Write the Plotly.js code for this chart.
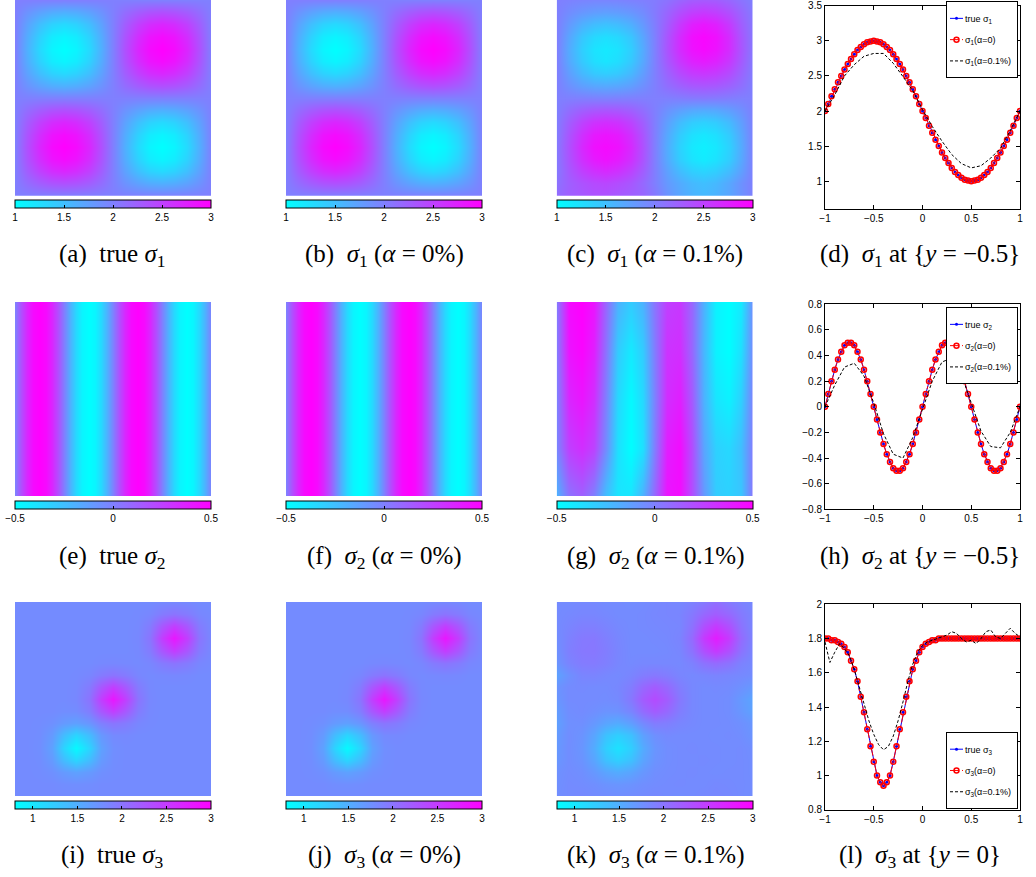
<!DOCTYPE html>
<html><head><meta charset="utf-8">
<script src="https://cdn.plot.ly/plotly-3.0.1.min.js"></script>
<style>html,body{margin:0;padding:0;background:#fff}#chart{width:1036px;height:877px}</style>
</head><body><div id="chart"></div>
<script>
// ---------------- data ----------------
const grid17 = [-1,-0.875,-0.75,-0.625,-0.5,-0.375,-0.25,-0.125,0,0.125,0.25,0.375,0.5,0.625,0.75,0.875,1];
const grid33 = [-1,-0.9375,-0.875,-0.8125,-0.75,-0.6875,-0.625,-0.5625,-0.5,-0.4375,-0.375,-0.3125,-0.25,-0.1875,-0.125,-0.0625,0,0.0625,0.125,0.1875,0.25,0.3125,0.375,0.4375,0.5,0.5625,0.625,0.6875,0.75,0.8125,0.875,0.9375,1];
const grid5 = [-1,-0.5,0,0.5,1];
const yEnds = [-1,1];

const sigma1TrueGrid = [
 [2,2,2,2,2,2,2,2,2,2,2,2,2,2,2,2,2],
 [2,2.15,2.27,2.35,2.38,2.35,2.27,2.15,2,1.85,1.73,1.65,1.62,1.65,1.73,1.85,2],
 [2,2.27,2.5,2.65,2.71,2.65,2.5,2.27,2,1.73,1.5,1.35,1.29,1.35,1.5,1.73,2],
 [2,2.35,2.65,2.85,2.92,2.85,2.65,2.35,2,1.65,1.35,1.15,1.08,1.15,1.35,1.65,2],
 [2,2.38,2.71,2.92,3,2.92,2.71,2.38,2,1.62,1.29,1.08,1,1.08,1.29,1.62,2],
 [2,2.35,2.65,2.85,2.92,2.85,2.65,2.35,2,1.65,1.35,1.15,1.08,1.15,1.35,1.65,2],
 [2,2.27,2.5,2.65,2.71,2.65,2.5,2.27,2,1.73,1.5,1.35,1.29,1.35,1.5,1.73,2],
 [2,2.15,2.27,2.35,2.38,2.35,2.27,2.15,2,1.85,1.73,1.65,1.62,1.65,1.73,1.85,2],
 [2,2,2,2,2,2,2,2,2,2,2,2,2,2,2,2,2],
 [2,1.85,1.73,1.65,1.62,1.65,1.73,1.85,2,2.15,2.27,2.35,2.38,2.35,2.27,2.15,2],
 [2,1.73,1.5,1.35,1.29,1.35,1.5,1.73,2,2.27,2.5,2.65,2.71,2.65,2.5,2.27,2],
 [2,1.65,1.35,1.15,1.08,1.15,1.35,1.65,2,2.35,2.65,2.85,2.92,2.85,2.65,2.35,2],
 [2,1.62,1.29,1.08,1,1.08,1.29,1.62,2,2.38,2.71,2.92,3,2.92,2.71,2.38,2],
 [2,1.65,1.35,1.15,1.08,1.15,1.35,1.65,2,2.35,2.65,2.85,2.92,2.85,2.65,2.35,2],
 [2,1.73,1.5,1.35,1.29,1.35,1.5,1.73,2,2.27,2.5,2.65,2.71,2.65,2.5,2.27,2],
 [2,1.85,1.73,1.65,1.62,1.65,1.73,1.85,2,2.15,2.27,2.35,2.38,2.35,2.27,2.15,2],
 [2,2,2,2,2,2,2,2,2,2,2,2,2,2,2,2,2]
];
const sigma1Alpha0Grid = sigma1TrueGrid;
const sigma1NoisyGrid = [
 [2.15,2.25,2.3,2.35,2.35,2.3,2.25,2.2,2.05,1.85,1.7,1.6,1.55,1.6,1.7,1.85,2.0],
 [2.1,2.25,2.35,2.42,2.45,2.4,2.32,2.18,2.0,1.8,1.66,1.55,1.5,1.55,1.68,1.85,2.0],
 [2.05,2.3,2.5,2.62,2.68,2.62,2.48,2.27,2.0,1.74,1.52,1.38,1.33,1.38,1.52,1.74,2.0],
 [2.05,2.35,2.63,2.8,2.87,2.8,2.63,2.35,2.0,1.67,1.38,1.22,1.15,1.22,1.38,1.67,2.0],
 [2.05,2.37,2.68,2.87,2.92,2.87,2.68,2.37,2.0,1.65,1.35,1.18,1.12,1.18,1.35,1.65,2.0],
 [2.03,2.34,2.62,2.8,2.85,2.8,2.62,2.34,2.0,1.68,1.4,1.24,1.18,1.24,1.4,1.68,2.0],
 [2.02,2.26,2.47,2.6,2.64,2.6,2.47,2.26,2.0,1.75,1.53,1.4,1.36,1.4,1.53,1.75,2.0],
 [2.0,2.14,2.25,2.31,2.33,2.31,2.25,2.14,2.0,1.86,1.75,1.68,1.66,1.68,1.75,1.86,2.0],
 [2.0,2.0,2.0,1.99,1.98,1.99,2.0,2.0,2.0,2.0,2.02,2.04,2.05,2.04,2.02,2.0,2.0],
 [2.0,1.87,1.76,1.7,1.68,1.7,1.76,1.87,2.0,2.13,2.23,2.3,2.32,2.3,2.23,2.13,2.0],
 [2.0,1.76,1.55,1.42,1.38,1.42,1.55,1.76,2.0,2.22,2.42,2.54,2.58,2.54,2.42,2.22,2.02],
 [2.0,1.68,1.42,1.26,1.2,1.26,1.42,1.68,2.0,2.3,2.57,2.74,2.8,2.74,2.57,2.3,2.03],
 [2.0,1.66,1.38,1.22,1.17,1.22,1.38,1.66,2.0,2.34,2.66,2.86,2.93,2.86,2.66,2.34,2.05],
 [2.0,1.7,1.44,1.3,1.25,1.3,1.44,1.7,2.0,2.33,2.66,2.88,2.95,2.88,2.66,2.33,2.05],
 [2.0,1.8,1.62,1.52,1.48,1.52,1.62,1.8,2.02,2.27,2.55,2.75,2.82,2.75,2.55,2.27,2.05],
 [2.0,1.9,1.82,1.77,1.75,1.77,1.82,1.9,2.04,2.2,2.38,2.5,2.55,2.5,2.38,2.2,2.03],
 [2.0,1.98,1.96,1.95,1.95,1.96,1.98,2.0,2.03,2.1,2.2,2.28,2.3,2.28,2.2,2.1,2.0]
];

const sigma2TrueProfile = [0,0.19,0.35,0.46,0.5,0.46,0.35,0.19,0,-0.19,-0.35,-0.46,-0.5,-0.46,-0.35,-0.19,0,0.19,0.35,0.46,0.5,0.46,0.35,0.19,0,-0.19,-0.35,-0.46,-0.5,-0.46,-0.35,-0.19,0];
const sigma2NoisyGrid = [
 [-0.2,0.05,0.12,0.0,-0.25,-0.4,-0.4,-0.2,0.1,0.42,0.45,0.2,-0.1,-0.3,-0.32,-0.28,0.05],
 [-0.02,0.25,0.32,0.24,-0.05,-0.38,-0.5,-0.38,0.02,0.38,0.45,0.2,-0.15,-0.32,-0.35,-0.25,0.02],
 [0.0,0.35,0.42,0.32,0.0,-0.35,-0.48,-0.35,0.0,0.32,0.38,0.15,-0.2,-0.4,-0.45,-0.32,0.0],
 [0.02,0.42,0.48,0.38,0.05,-0.3,-0.42,-0.3,0.02,0.3,0.32,0.1,-0.22,-0.45,-0.5,-0.38,-0.03],
 [0.02,0.45,0.5,0.42,0.1,-0.2,-0.3,-0.2,0.05,0.25,0.28,0.1,-0.2,-0.45,-0.5,-0.42,-0.05]
];

const sigma3TrueGrid = [
 [1.8,1.8,1.8,1.8,1.8,1.8,1.8,1.8,1.8,1.8,1.8,1.8,1.8,1.8,1.8,1.8,1.8],
 [1.8,1.8,1.8,1.8,1.78,1.77,1.78,1.8,1.8,1.8,1.8,1.8,1.8,1.8,1.8,1.8,1.8],
 [1.8,1.8,1.79,1.76,1.67,1.61,1.67,1.76,1.79,1.8,1.8,1.8,1.8,1.8,1.8,1.8,1.8],
 [1.8,1.8,1.78,1.67,1.37,1.16,1.37,1.67,1.78,1.8,1.8,1.8,1.8,1.8,1.8,1.8,1.8],
 [1.8,1.8,1.77,1.61,1.16,0.85,1.16,1.61,1.77,1.8,1.8,1.8,1.8,1.8,1.8,1.8,1.8],
 [1.8,1.8,1.78,1.67,1.37,1.16,1.37,1.69,1.81,1.82,1.8,1.8,1.8,1.8,1.8,1.8,1.8],
 [1.8,1.8,1.79,1.76,1.67,1.62,1.71,1.9,1.99,1.94,1.84,1.81,1.8,1.8,1.8,1.8,1.8],
 [1.8,1.8,1.8,1.8,1.78,1.79,1.92,2.25,2.47,2.25,1.94,1.82,1.8,1.8,1.8,1.8,1.8],
 [1.8,1.8,1.8,1.8,1.8,1.83,2.0,2.47,2.8,2.47,2.0,1.83,1.8,1.8,1.8,1.8,1.8],
 [1.8,1.8,1.8,1.8,1.8,1.82,1.94,2.25,2.47,2.25,1.94,1.82,1.8,1.8,1.8,1.8,1.8],
 [1.8,1.8,1.8,1.8,1.8,1.81,1.84,1.94,2.0,1.94,1.84,1.81,1.82,1.83,1.82,1.8,1.8],
 [1.8,1.8,1.8,1.8,1.8,1.8,1.8,1.82,1.83,1.82,1.81,1.84,1.94,2.0,1.94,1.84,1.81],
 [1.8,1.8,1.8,1.8,1.8,1.8,1.8,1.8,1.8,1.8,1.82,1.94,2.25,2.47,2.25,1.94,1.82],
 [1.8,1.8,1.8,1.8,1.8,1.8,1.8,1.8,1.8,1.8,1.83,2.0,2.47,2.8,2.47,2.0,1.83],
 [1.8,1.8,1.8,1.8,1.8,1.8,1.8,1.8,1.8,1.8,1.82,1.94,2.25,2.47,2.25,1.94,1.82],
 [1.8,1.8,1.8,1.8,1.8,1.8,1.8,1.8,1.8,1.8,1.81,1.84,1.94,2.0,1.94,1.84,1.81],
 [1.8,1.8,1.8,1.8,1.8,1.8,1.8,1.8,1.8,1.8,1.8,1.8,1.82,1.83,1.82,1.8,1.8]
];
const sigma3Alpha0Grid = sigma3TrueGrid;
const sigma3NoisyGrid = [
 [1.78,1.8,1.82,1.8,1.79,1.78,1.79,1.8,1.82,1.8,1.79,1.8,1.82,1.83,1.82,1.8,1.78],
 [1.76,1.8,1.79,1.77,1.73,1.71,1.73,1.77,1.79,1.8,1.81,1.8,1.8,1.82,1.81,1.8,1.79],
 [1.75,1.79,1.77,1.69,1.58,1.52,1.58,1.69,1.77,1.79,1.8,1.81,1.8,1.79,1.8,1.8,1.78],
 [1.7,1.78,1.73,1.58,1.33,1.21,1.33,1.58,1.73,1.78,1.8,1.8,1.81,1.8,1.79,1.8,1.78],
 [1.68,1.78,1.71,1.52,1.21,1.05,1.21,1.52,1.71,1.78,1.8,1.81,1.8,1.8,1.79,1.8,1.77],
 [1.66,1.78,1.73,1.58,1.33,1.21,1.33,1.61,1.76,1.81,1.8,1.8,1.8,1.79,1.8,1.78,1.72],
 [1.62,1.76,1.77,1.69,1.58,1.52,1.63,1.81,1.93,1.91,1.85,1.82,1.8,1.8,1.79,1.76,1.7],
 [1.65,1.78,1.8,1.77,1.73,1.74,1.85,2.07,2.21,2.1,1.92,1.83,1.8,1.8,1.78,1.7,1.6],
 [1.7,1.8,1.8,1.8,1.79,1.81,1.96,2.21,2.35,2.21,1.96,1.83,1.8,1.8,1.78,1.68,1.58],
 [1.72,1.8,1.81,1.8,1.8,1.83,1.92,2.1,2.21,2.1,1.92,1.83,1.8,1.81,1.8,1.75,1.68],
 [1.6,1.75,1.85,1.86,1.83,1.81,1.85,1.92,1.96,1.92,1.85,1.82,1.84,1.86,1.84,1.82,1.79],
 [1.72,1.86,1.93,1.94,1.9,1.84,1.81,1.83,1.83,1.83,1.82,1.88,2.01,2.08,2.01,1.88,1.82],
 [1.75,1.9,1.96,1.97,1.92,1.85,1.8,1.8,1.8,1.81,1.84,2.01,2.31,2.5,2.31,2.01,1.84],
 [1.78,1.88,1.95,1.96,1.9,1.84,1.8,1.8,1.81,1.82,1.86,2.08,2.5,2.75,2.5,2.08,1.86],
 [1.8,1.85,1.9,1.9,1.86,1.82,1.8,1.81,1.82,1.83,1.84,2.01,2.31,2.5,2.31,2.01,1.84],
 [1.8,1.82,1.84,1.84,1.82,1.8,1.8,1.81,1.83,1.84,1.85,1.95,2.1,2.2,2.1,1.95,1.85],
 [1.8,1.8,1.82,1.82,1.8,1.8,1.79,1.8,1.82,1.84,1.83,1.88,1.95,2.05,1.95,1.88,1.82]
];

const cbTicks1 = [1,1.5,2,2.5,3];
const cbTicks2 = [-0.5,0,0.5];
const cbTicks3 = [1,1.5,2,2.5,3];

// line profiles
const xFine61 = [-1,-0.9667,-0.9333,-0.9,-0.8667,-0.8333,-0.8,-0.7667,-0.7333,-0.7,-0.6667,-0.6333,-0.6,-0.5667,-0.5333,-0.5,-0.4667,-0.4333,-0.4,-0.3667,-0.3333,-0.3,-0.2667,-0.2333,-0.2,-0.1667,-0.1333,-0.1,-0.0667,-0.0333,0,0.0333,0.0667,0.1,0.1333,0.1667,0.2,0.2333,0.2667,0.3,0.3333,0.3667,0.4,0.4333,0.4667,0.5,0.5333,0.5667,0.6,0.6333,0.6667,0.7,0.7333,0.7667,0.8,0.8333,0.8667,0.9,0.9333,0.9667,1];
const xMid41 = [-1,-0.95,-0.9,-0.85,-0.8,-0.75,-0.7,-0.65,-0.6,-0.55,-0.5,-0.45,-0.4,-0.35,-0.3,-0.25,-0.2,-0.15,-0.1,-0.05,0,0.05,0.1,0.15,0.2,0.25,0.3,0.35,0.4,0.45,0.5,0.55,0.6,0.65,0.7,0.75,0.8,0.85,0.9,0.95,1];
const xCoarse21 = [-1,-0.9,-0.8,-0.7,-0.6,-0.5,-0.4,-0.3,-0.2,-0.1,0,0.1,0.2,0.3,0.4,0.5,0.6,0.7,0.8,0.9,1];

const sigma1TrueLine = [2,2.10,2.21,2.31,2.41,2.5,2.59,2.67,2.74,2.81,2.87,2.91,2.95,2.98,2.99,3.0,2.99,2.98,2.95,2.91,2.87,2.81,2.74,2.67,2.59,2.5,2.41,2.31,2.21,2.10,2.0,1.90,1.79,1.69,1.59,1.5,1.41,1.33,1.26,1.19,1.13,1.09,1.05,1.02,1.01,1.0,1.01,1.02,1.05,1.09,1.13,1.19,1.26,1.33,1.41,1.5,1.59,1.69,1.79,1.90,2.0];
const sigma1Alpha0Line = sigma1TrueLine;
const sigma1NoisyLine = [2.00,2.23,2.50,2.66,2.78,2.82,2.82,2.68,2.49,2.29,2.02,1.78,1.57,1.38,1.25,1.19,1.22,1.33,1.47,1.72,2.00];

const sigma2TrueLine = [0,0.10,0.20,0.29,0.37,0.43,0.48,0.50,0.50,0.48,0.43,0.37,0.29,0.20,0.10,0,-0.10,-0.20,-0.29,-0.37,-0.43,-0.48,-0.50,-0.50,-0.48,-0.43,-0.37,-0.29,-0.20,-0.10,0,0.10,0.20,0.29,0.37,0.43,0.48,0.50,0.50,0.48,0.43,0.37,0.29,0.20,0.10,0,-0.10,-0.20,-0.29,-0.37,-0.43,-0.48,-0.50,-0.50,-0.48,-0.43,-0.37,-0.29,-0.20,-0.10,0];
const sigma2Alpha0Line = sigma2TrueLine;
const sigma2NoisyLine = [0.00,0.17,0.31,0.34,0.24,0.03,-0.21,-0.37,-0.40,-0.24,-0.02,0.20,0.35,0.38,0.25,0.03,-0.19,-0.31,-0.32,-0.20,0.00];

const sigma3TrueLine = [1.80,1.80,1.79,1.79,1.78,1.77,1.75,1.72,1.67,1.62,1.55,1.46,1.37,1.27,1.17,1.08,1.00,0.96,0.94,0.96,1.00,1.08,1.17,1.27,1.37,1.46,1.55,1.62,1.67,1.72,1.75,1.77,1.78,1.79,1.79,1.80,1.80,1.80,1.80,1.80,1.80,1.80,1.80,1.80,1.80,1.80,1.80,1.80,1.80,1.80,1.80,1.80,1.80,1.80,1.80,1.80,1.80,1.80,1.80,1.80,1.80];
const sigma3Alpha0Line = sigma3TrueLine;
const sigma3NoisyLine = [1.78,1.66,1.72,1.77,1.74,1.70,1.62,1.52,1.41,1.32,1.24,1.18,1.15,1.17,1.23,1.32,1.43,1.55,1.65,1.72,1.76,1.78,1.79,1.80,1.81,1.82,1.84,1.83,1.80,1.78,1.79,1.77,1.80,1.84,1.85,1.81,1.80,1.83,1.86,1.83,1.81];

// ---------------- layout helpers ----------------
const W = 1036, H = 877;
const px = v => v / W;
const py = v => 1 - v / H;
const cool = [[0,'rgb(0,255,255)'],[1,'rgb(255,0,255)']];
const tickFont = {family:'Liberation Sans, Arial, sans-serif', size:10, color:'#000'};
const capFont = {family:'Liberation Serif, Times New Roman, serif', size:25, color:'#000'};

const heatLeft = [15, 286, 556.7];
const heatW = 196;
const rowGeom = [
  {top:0,   bot:195.7, cbTop:200,   lineTop:5.7,   lineBot:209.3, capY:255.5},
  {top:302, bot:496,   cbTop:500.7, lineTop:304.3, lineBot:509.3, capY:557},
  {top:602, bot:796,   cbTop:800.7, lineTop:604.3, lineBot:809.7, capY:856}
];

const heatPanels = [
  {z:sigma1TrueGrid,   x:grid17, y:grid17, zmin:1,   zmax:3,   ticks:cbTicks1},
  {z:sigma1Alpha0Grid, x:grid17, y:grid17, zmin:1,   zmax:3,   ticks:cbTicks1},
  {z:sigma1NoisyGrid,  x:grid17, y:grid17, zmin:1,   zmax:3,   ticks:cbTicks1},
  {z:[sigma2TrueProfile, sigma2TrueProfile], x:grid33, y:yEnds, zmin:-0.5, zmax:0.5, ticks:cbTicks2},
  {z:[sigma2TrueProfile, sigma2TrueProfile], x:grid33, y:yEnds, zmin:-0.5, zmax:0.5, ticks:cbTicks2},
  {z:sigma2NoisyGrid,  x:grid17, y:grid5,  zmin:-0.5, zmax:0.5, ticks:cbTicks2},
  {z:sigma3TrueGrid,   x:grid17, y:grid17, zmin:0.8, zmax:3,   ticks:cbTicks3},
  {z:sigma3Alpha0Grid, x:grid17, y:grid17, zmin:0.8, zmax:3,   ticks:cbTicks3},
  {z:sigma3NoisyGrid,  x:grid17, y:grid17, zmin:0.8, zmax:3,   ticks:cbTicks3}
];

const linePanels = [
  {trueY:sigma1TrueLine, a0Y:sigma1Alpha0Line, noisyX:xCoarse21, noisyY:sigma1NoisyLine, sub:'1', yrange:[0.6,3.5], ytick:[1,1.5,2,2.5,3,3.5], legend:'legend'},
  {trueY:sigma2TrueLine, a0Y:sigma2Alpha0Line, noisyX:xCoarse21, noisyY:sigma2NoisyLine, sub:'2', yrange:[-0.8,0.8], ytick:[-0.8,-0.6,-0.4,-0.2,0,0.2,0.4,0.6,0.8], legend:'legend2'},
  {trueY:sigma3TrueLine, a0Y:sigma3Alpha0Line, noisyX:xMid41, noisyY:sigma3NoisyLine, sub:'3', yrange:[0.8,2], ytick:[0.8,1,1.2,1.4,1.6,1.8,2], legend:'legend3'}
];

const nb = '\u00a0';
const captions = [
  ['(a)'+nb+nb+'true <i>σ</i><sub>1</sub>', '(b)'+nb+nb+'<i>σ</i><sub>1</sub>'+nb+'(<i>α</i>'+nb+'='+nb+'0%)', '(c)'+nb+nb+'<i>σ</i><sub>1</sub>'+nb+'(<i>α</i>'+nb+'='+nb+'0.1%)', '(d)'+nb+nb+'<i>σ</i><sub>1</sub>'+nb+'at'+nb+'{<i>y</i>'+nb+'='+nb+'−0.5}'],
  ['(e)'+nb+nb+'true <i>σ</i><sub>2</sub>', '(f)'+nb+nb+'<i>σ</i><sub>2</sub>'+nb+'(<i>α</i>'+nb+'='+nb+'0%)', '(g)'+nb+nb+'<i>σ</i><sub>2</sub>'+nb+'(<i>α</i>'+nb+'='+nb+'0.1%)', '(h)'+nb+nb+'<i>σ</i><sub>2</sub>'+nb+'at'+nb+'{<i>y</i>'+nb+'='+nb+'−0.5}'],
  ['(i)'+nb+nb+'true <i>σ</i><sub>3</sub>', '(j)'+nb+nb+'<i>σ</i><sub>3</sub>'+nb+'(<i>α</i>'+nb+'='+nb+'0%)', '(k)'+nb+nb+'<i>σ</i><sub>3</sub>'+nb+'(<i>α</i>'+nb+'='+nb+'0.1%)', '(l)'+nb+nb+'<i>σ</i><sub>3</sub>'+nb+'at'+nb+'{<i>y</i>'+nb+'='+nb+'0}']
];
const capCenters = [112, 384, 655, 920];

// ---------------- build ----------------
const data = [];
const layout = {
  width: W, height: H,
  margin: {l:0, r:0, t:0, b:0},
  paper_bgcolor: '#fff', plot_bgcolor: '#fff',
  showlegend: true,
  annotations: []
};

heatPanels.forEach((p, n) => {
  const k = n + 1;
  const r = Math.floor(n / 3), c = n % 3;
  const g = rowGeom[r];
  const left = heatLeft[c];
  layout['xaxis' + k] = {domain:[px(left), px(left + heatW)], range:[-1,1], visible:false, anchor:'y' + k, fixedrange:true};
  layout['yaxis' + k] = {domain:[py(g.bot), py(g.top)], range:[-1,1], visible:false, anchor:'x' + k, fixedrange:true};
  data.push({
    type:'heatmap', z:p.z, x:p.x, y:p.y, zmin:p.zmin, zmax:p.zmax, zsmooth:'best',
    colorscale:cool, xaxis:'x' + k, yaxis:'y' + k, hoverinfo:'skip', showlegend:false,
    colorbar:{
      orientation:'h', xref:'paper', yref:'paper',
      x:px(left), xanchor:'left', y:py(g.cbTop), yanchor:'top',
      len:heatW, lenmode:'pixels', thickness:8, thicknessmode:'pixels',
      xpad:0, ypad:0, outlinewidth:1, outlinecolor:'#000',
      ticks:'inside', ticklen:3, tickwidth:1, tickcolor:'#000',
      tickvals:p.ticks, tickfont:tickFont
    }
  });
});

linePanels.forEach((p, n) => {
  const k = 10 + n;
  const g = rowGeom[n];
  layout['xaxis' + k] = {
    domain:[px(825), px(1020)], range:[-1,1], anchor:'y' + k,
    tickvals:[-1,-0.5,0,0.5,1], ticks:'inside', ticklen:4, tickcolor:'#000',
    mirror:'allticks', showline:true, linecolor:'#000', linewidth:1,
    showgrid:false, zeroline:false, tickfont:tickFont, fixedrange:true
  };
  layout['yaxis' + k] = {
    domain:[py(g.lineBot), py(g.lineTop)], range:p.yrange, anchor:'x' + k,
    tickvals:p.ytick, ticks:'inside', ticklen:4, tickcolor:'#000',
    mirror:'allticks', showline:true, linecolor:'#000', linewidth:1,
    showgrid:false, zeroline:false, tickfont:tickFont, fixedrange:true
  };
  data.push({
    type:'scatter', mode:'lines+markers', x:xFine61, y:p.trueY, xaxis:'x' + k, yaxis:'y' + k,
    name:'true σ<sub>' + p.sub + '</sub>', legend:p.legend,
    line:{color:'#0000ff', width:1}, marker:{color:'#0000ff', size:3}, hoverinfo:'skip'
  });
  data.push({
    type:'scatter', mode:'lines+markers', x:xFine61, y:p.a0Y, xaxis:'x' + k, yaxis:'y' + k,
    name:'σ<sub>' + p.sub + '</sub>(α=0)', legend:p.legend,
    line:{color:'#ff0000', width:1, dash:'dashdot'},
    marker:{color:'#ff0000', size:5, symbol:'circle-open', line:{width:1.5, color:'#ff0000'}}, hoverinfo:'skip'
  });
  data.push({
    type:'scatter', mode:'lines', x:p.noisyX, y:p.noisyY, xaxis:'x' + k, yaxis:'y' + k,
    name:'σ<sub>' + p.sub + '</sub>(α=0.1%)', legend:p.legend,
    line:{color:'#000000', width:1, dash:'3px,2px'}, hoverinfo:'skip'
  });
});

const legendBase = {
  xref:'paper', yref:'paper', x:px(1018), xanchor:'right',
  bgcolor:'#fff', bordercolor:'#000', borderwidth:1,
  font:{family:'Liberation Sans, Arial, sans-serif', size:9, color:'#000'},
  itemwidth:30, tracegroupgap:0
};
layout.legend  = Object.assign({}, legendBase, {y:py(1), yanchor:'top'});
layout.legend2 = Object.assign({}, legendBase, {y:py(307), yanchor:'top'});
layout.legend3 = Object.assign({}, legendBase, {y:py(809), yanchor:'bottom'});

captions.forEach((row, r) => {
  row.forEach((txt, c) => {
    layout.annotations.push({
      xref:'paper', yref:'paper', x:px(capCenters[c]), y:py(rowGeom[r].capY),
      xanchor:'center', yanchor:'middle', showarrow:false, text:txt, font:capFont
    });
  });
});

// compact legend samples (MATLAB-style short sample lines, slightly taller rows)
const S = 22, F = 1.12;
function compactLegends(gd) {
  ['legend', 'legend2', 'legend3'].forEach(id => {
    gd.querySelectorAll('g.' + id).forEach(lg => {
      // labels carry the class '<legendId>text'; absolute shift, safe to repeat
      lg.querySelectorAll('text.' + id + 'text, text.legendtext').forEach(t => {
        t.setAttribute('transform', 'translate(' + (-S) + ',0)');
      });
      if (lg.getAttribute('data-compact') === '1') return;
      lg.setAttribute('data-compact', '1');
      lg.querySelectorAll('g.traces').forEach(tr => {
        tr.querySelectorAll('path.js-line').forEach(p => p.setAttribute('d', 'M3,0h13'));
        tr.querySelectorAll('.legendpoints path').forEach(p => {
          const tf = p.getAttribute('transform') || '';
          p.setAttribute('transform', tf.replace(/translate\(\s*([-\d.]+)/, (m, a) => 'translate(' + (parseFloat(a) - 10.5)));
        });
        const ttf = tr.getAttribute('transform') || '';
        tr.setAttribute('transform', ttf.replace(/translate\(\s*([-\d.]+)\s*,\s*([-\d.]+)/, (m, a, b) => 'translate(' + a + ',' + (parseFloat(b) * F)));
      });
      const bg = lg.querySelector('rect.bg');
      let extra = 0;
      if (bg) {
        const h0 = parseFloat(bg.getAttribute('height'));
        extra = h0 * (F - 1);
        bg.setAttribute('width', parseFloat(bg.getAttribute('width')) - S);
        bg.setAttribute('height', h0 + extra);
      }
      const shiftY = (id === 'legend3') ? -extra : 0;
      const tf = lg.getAttribute('transform') || '';
      lg.setAttribute('transform', tf.replace(/translate\(\s*([-\d.]+)\s*,\s*([-\d.]+)/, (m, a, b) => 'translate(' + (parseFloat(a) + S) + ',' + (parseFloat(b) + shiftY)));
    });
  });
}

Plotly.newPlot('chart', data, layout, {displayModeBar:false, staticPlot:true}).then(gd => {
  try { compactLegends(gd); } catch (e) {}
  [50, 200, 600].forEach(ms => setTimeout(() => { try { compactLegends(gd); } catch (e) {} }, ms));
});
</script>
</body></html>
